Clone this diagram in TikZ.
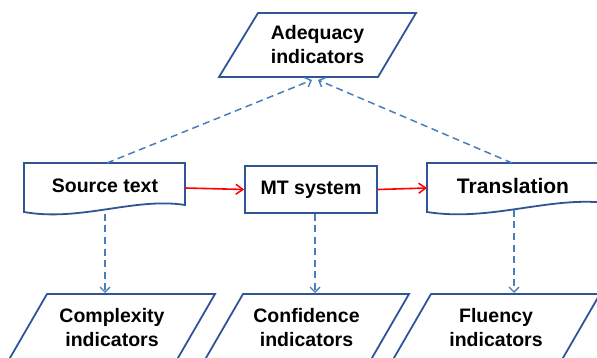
\documentclass[tikz,border=0pt]{standalone}
\usepackage{fontspec}
\setmainfont{Liberation Sans}
\usetikzlibrary{arrows.meta}
\definecolor{shapeblue}{HTML}{2F5597}
\definecolor{linkblue}{HTML}{4A7EBB}
\begin{document}
\begin{tikzpicture}[x=1pt,y=-1pt,
  outline/.style={draw=shapeblue,line width=1.8pt,line join=miter},
  lbl/.style={font=\fontsize{19.5}{24}\selectfont\bfseries,align=center,inner sep=0pt},
  box/.style={outline,fill=white,minimum width=132pt,minimum height=47pt,inner sep=0pt,font=\fontsize{19.5}{24}\selectfont\bfseries},
  dlink/.style={draw=linkblue,line width=1.5pt,dash pattern=on 7pt off 4.5pt,-{Straight Barb[length=5pt,width=10pt,line width=1.4pt]}},
  rlink/.style={draw=red,line width=1.6pt,-{Straight Barb[length=7pt,width=10pt,line width=1.5pt]}}]
\useasboundingbox (0,0) rectangle (597,358);
% Adequacy parallelogram
\draw[outline] (258,13) -- (416,13) -- (378,77) -- (219,77) -- cycle;
\node[lbl] (adeq) at (317.5,45) {Adequacy\\indicators};
% Bottom parallelograms
\draw[outline] (47,294) -- (215,294) -- (171,370) -- (3,370) -- cycle;
\node[lbl] (cplx) at (112,328) {Complexity\\indicators};
\draw[outline] (243,294) -- (409,294) -- (365,370) -- (199,370) -- cycle;
\node[lbl] (conf) at (306.5,328) {Confidence\\indicators};
\draw[outline] (431,294) -- (600,294) -- (556,370) -- (387,370) -- cycle;
\node[lbl] (flu) at (496,328) {Fluency\\indicators};
% Document shapes
\draw[outline] (24,163) -- (185,163) -- (185,205) .. controls (135,197) and (80,222) .. (24,212) -- cycle;
\node[lbl] (src) at (105,186) {Source text};
\draw[outline] (427,163) -- (606,163) -- (606,203) .. controls (550,196) and (490,222) .. (427,212) -- cycle;
\node[lbl,font=\fontsize{21}{24}\selectfont\bfseries] (tr) at (513,186) {Translation};
% MT box
\node[box] (mt) at (311,189.5) {MT system};
% connector end points
\coordinate (srcT) at (107,163);
\coordinate (srcB) at (105,214);
\coordinate (srcR) at (185,188);
\coordinate (trT) at (512,163);
\coordinate (trB) at (514,210);
\coordinate (trL) at (427,188);
\coordinate (adeqB1) at (312,80);
\coordinate (adeqB2) at (318,80);
\coordinate (cplxT) at (105,293);
\coordinate (confT) at (315,293);
\coordinate (fluT) at (514,293);
% connectors
\draw[dlink] (srcT) -- (adeqB1);
\draw[dlink] (trT) -- (adeqB2);
\draw[dlink] (srcB) -- (cplxT);
\draw[dlink] (mt.south -| confT) -- (confT);
\draw[dlink] (trB) -- (fluT);
\draw[rlink] (srcR) -- (mt.west);
\draw[rlink] (mt.east) -- (trL);
\end{tikzpicture}
\end{document}
